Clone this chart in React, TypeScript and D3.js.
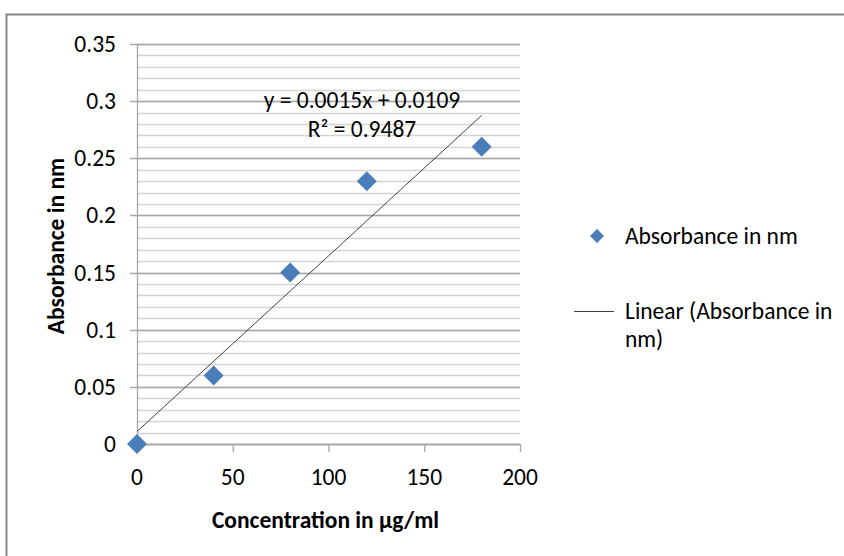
import React from "react";
import * as d3 from "d3";

// data
const concentration = [0, 40, 80, 120, 180];
const absorbance = [0, 0.06, 0.15, 0.23, 0.26];
const xTicks = [0, 50, 100, 150, 200];
const yTicks = [0, 0.05, 0.1, 0.15, 0.2, 0.25, 0.3, 0.35];
const seriesName = "Absorbance in nm";

const W = 844;
const H = 556;
const FONT = "Carlito, Calibri, 'Liberation Sans Narrow', 'Open Sans', sans-serif";
const BLUE = "#4a7ebb";
const FS = 23.5;

export default function App() {
  const x = d3.scaleLinear().domain([0, 200]).range([137, 520]);
  const y = d3.scaleLinear().domain([0, 0.35]).range([444, 44]);

  // least squares fit (Excel's linear trendline)
  const mx = d3.mean(concentration) as number;
  const my = d3.mean(absorbance) as number;
  let sxy = 0, sxx = 0, syy = 0;
  concentration.forEach((c, i) => {
    sxy += (c - mx) * (absorbance[i] - my);
    sxx += (c - mx) ** 2;
    syy += (absorbance[i] - my) ** 2;
  });
  const slope = sxy / sxx;
  const intercept = my - slope * mx;
  const r2 = (sxy * sxy) / (sxx * syy);

  const minorTicks = d3.range(0, 0.3501, 0.01);
  const line = d3.line<number>().x((d) => x(d)).y((d) => y(slope * d + intercept));
  const xExt = d3.extent(concentration) as [number, number];

  const diamond = (cx: number, cy: number, r: number) =>
    `M${cx},${cy - r}L${cx + r},${cy}L${cx},${cy + r}L${cx - r},${cy}Z`;

  return (
    <svg width={W} height={H} style={{ position: "absolute", left: 0, top: 0 }} fontFamily={FONT}>
      <rect x={0} y={0} width={W} height={H} fill="#fff" />
      {/* chart frame */}
      <rect x={6.5} y={14.5} width={W + 10} height={H + 10} fill="none" stroke="#868686" strokeWidth={2} />

      {/* minor gridlines */}
      {minorTicks.map((t, i) => (
        <line key={"m" + i} x1={x(0)} x2={x(200)} y1={Math.round(y(t)) + 0.5} y2={Math.round(y(t)) + 0.5} stroke="#d4d4d4" strokeWidth={1.3} />
      ))}
      {/* major gridlines */}
      {yTicks.map((t) => (
        <line key={"g" + t} x1={x(0) - 7} x2={x(200)} y1={Math.round(y(t)) + 0.5} y2={Math.round(y(t)) + 0.5} stroke="#a6a6a6" strokeWidth={1.3} />
      ))}
      {/* axes */}
      <line x1={x(0) + 0.5} x2={x(0) + 0.5} y1={y(0.35)} y2={y(0)} stroke="#a6a6a6" strokeWidth={1.3} />
      <line x1={x(0)} x2={x(200)} y1={y(0) + 0.5} y2={y(0) + 0.5} stroke="#a6a6a6" strokeWidth={1.3} />
      {xTicks.map((t) => (
        <line key={"xt" + t} x1={x(t) + 0.5} x2={x(t) + 0.5} y1={y(0)} y2={y(0) + 8} stroke="#a6a6a6" strokeWidth={1.3} />
      ))}

      {/* tick labels */}
      {yTicks.map((t) => (
        <text key={"yl" + t} x={116} y={y(t) + 8} textAnchor="end" fontSize={FS} fill="#000">
          {String(+t.toFixed(2))}
        </text>
      ))}
      {xTicks.map((t) => (
        <text key={"xl" + t} x={x(t)} y={485} textAnchor="middle" fontSize={FS} fill="#000">
          {t}
        </text>
      ))}

      {/* axis titles */}
      <text x={0} y={0} transform={`translate(64,${y(0.175) + 2}) rotate(-90)`} textAnchor="middle" fontSize={FS} fontWeight="bold">
        {seriesName}
      </text>
      <text x={x(100) - 3} y={528} textAnchor="middle" fontSize={FS} fontWeight="bold">
        Concentration in µg/ml
      </text>

      {/* trendline */}
      <path d={line(xExt) as string} fill="none" stroke="#404040" strokeWidth={1} />

      {/* points */}
      {concentration.map((c, i) => (
        <path key={"p" + i} d={diamond(x(c), y(absorbance[i]), 10)} fill={BLUE} />
      ))}

      {/* equation */}
      <text x={362} y={108} textAnchor="middle" fontSize={FS} fill="#000">
        {`y = ${slope.toFixed(4)}x + ${intercept.toFixed(4)}`}
      </text>
      <text x={362} y={137} textAnchor="middle" fontSize={FS} fill="#000">
        R² = {r2.toFixed(4)}
      </text>

      {/* legend */}
      <path d={diamond(597, 236, 7)} fill={BLUE} />
      <text x={625} y={244} fontSize={FS}>{seriesName}</text>
      <line x1={574} x2={614} y1={311.5} y2={311.5} stroke="#404040" strokeWidth={1} />
      <text x={625} y={319} fontSize={FS}>Linear ({seriesName.replace(" nm", "")}</text>
      <text x={625} y={347} fontSize={FS}>nm)</text>
    </svg>
  );
}
